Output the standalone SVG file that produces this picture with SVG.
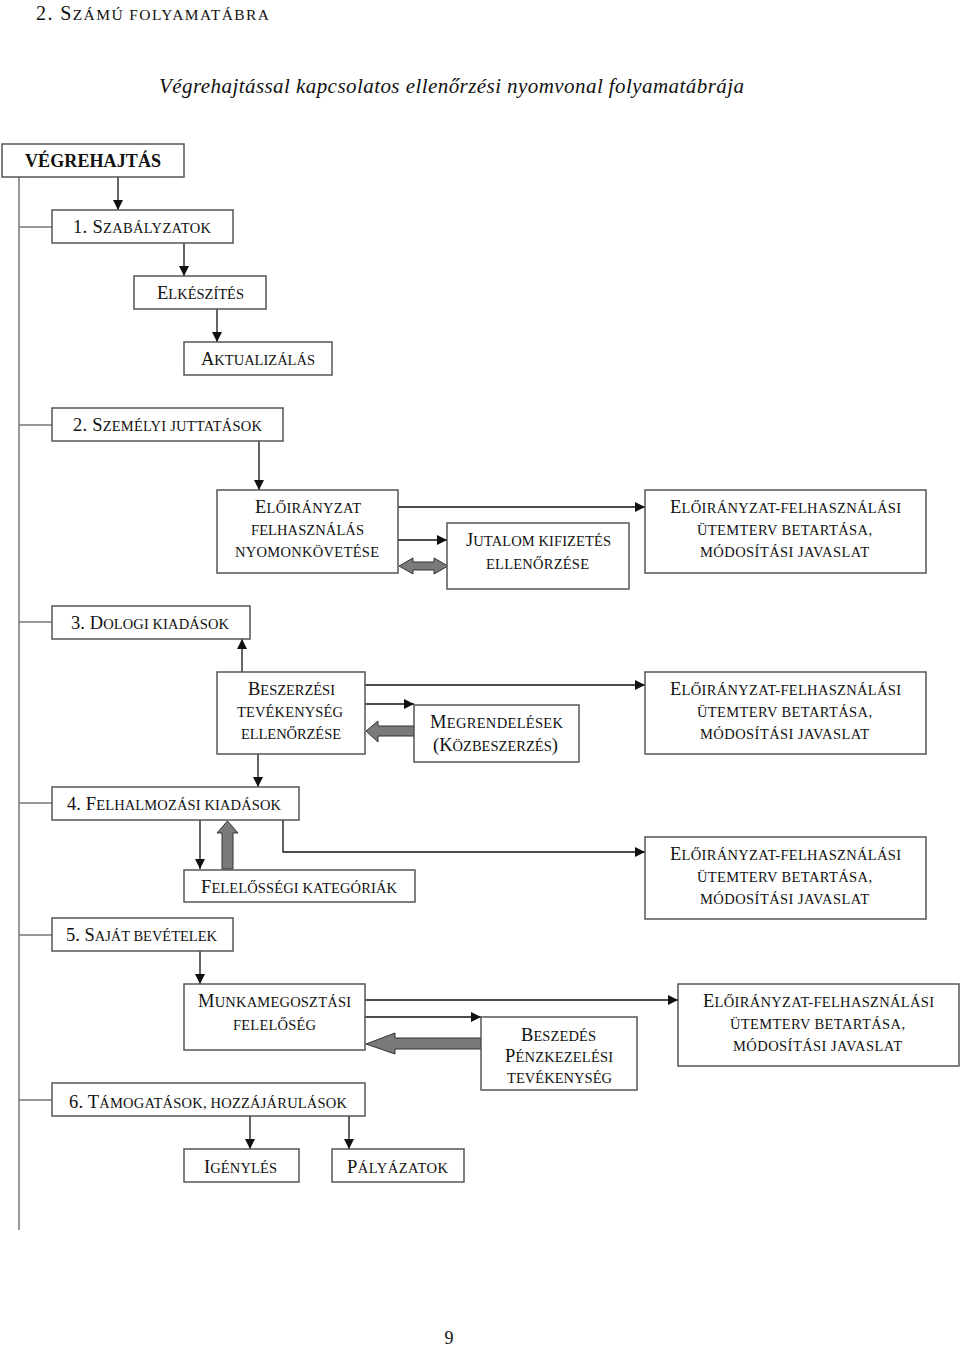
<svg xmlns="http://www.w3.org/2000/svg" width="960" height="1347" viewBox="0 0 960 1347">
<style>
text{font-family:"Liberation Serif","Times New Roman",serif;fill:#111;}
.b{font-size:18.5px}
.s{font-size:14.5px}
.box{fill:#fff;stroke:#555;stroke-width:1.5}
.spine{fill:none;stroke:#777;stroke-width:1.5}
.ln{fill:none;stroke:#111;stroke-width:1.3}
.blk{fill:#7a7a7a;stroke:#333;stroke-width:1}
</style>
<defs>
<marker id="ah" viewBox="0 0 10 10" refX="10" refY="5" markerWidth="10" markerHeight="10" markerUnits="userSpaceOnUse" orient="auto">
<path d="M0,0 L10,5 L0,10 z" fill="#111"/>
</marker>
</defs>
<rect width="960" height="1347" fill="#fff"/>

<g id="title">
<text x="36" y="20" textLength="233" lengthAdjust="spacing"><tspan style="font-size:20px">2. S</tspan><tspan style="font-size:15.5px">ZÁMÚ FOLYAMATÁBRA</tspan></text>
<text x="159" y="93" textLength="585" lengthAdjust="spacing" style="font-size:21px;font-style:italic">Végrehajtással kapcsolatos ellenőrzési nyomvonal folyamatábrája</text>
</g>

<g id="connectors">
<path class="spine" d="M19,177 V1230 M19,227 H52 M19,425 H52 M19,622 H52 M19,803 H52 M19,935 H52 M19,1100 H52"/>
<path class="ln" d="M118,177 V210" marker-end="url(#ah)"/>
<path class="ln" d="M184,243 V276" marker-end="url(#ah)"/>
<path class="ln" d="M217,309 V342" marker-end="url(#ah)"/>
<path class="ln" d="M259,441 V490" marker-end="url(#ah)"/>
<path class="ln" d="M398,507 H645" marker-end="url(#ah)"/>
<path class="ln" d="M398,540 H447" marker-end="url(#ah)"/>
<polygon class="blk" points="399,566 413,558 413,562 434,562 434,558 448,566 434,574 434,570 413,570 413,574"/>
<path class="ln" d="M242,672 V639" marker-end="url(#ah)"/>
<path class="ln" d="M365,685 H645" marker-end="url(#ah)"/>
<path class="ln" d="M365,704 H414" marker-end="url(#ah)"/>
<polygon class="blk" points="366,731 378,721 378,726 414,726 414,736 378,736 378,742"/>
<path class="ln" d="M258,754 V787" marker-end="url(#ah)"/>
<path class="ln" d="M200,820 V869" marker-end="url(#ah)"/>
<polygon class="blk" points="227.5,821 238,833 233,833 233,869 222,869 222,833 217,833"/>
<path class="ln" d="M283,820 V852 H645" marker-end="url(#ah)"/>
<path class="ln" d="M200,951 V984" marker-end="url(#ah)"/>
<path class="ln" d="M365,1000 H678" marker-end="url(#ah)"/>
<path class="ln" d="M365,1017 H481" marker-end="url(#ah)"/>
<polygon class="blk" points="366,1044 395,1033 395,1038 481,1038 481,1049 395,1049 395,1054"/>
<path class="ln" d="M250,1116 V1149" marker-end="url(#ah)"/>
<path class="ln" d="M349,1116 V1149" marker-end="url(#ah)"/>
</g>

<g id="n-vegrehajtas">
<rect class="box" x="2" y="144" width="182" height="33"/>
<text x="25" y="167" textLength="136" lengthAdjust="spacing" style="font-size:18px;font-weight:bold">VÉGREHAJTÁS</text>
</g>

<g id="n-szabalyzatok">
<rect class="box" x="52" y="210" width="181" height="33"/>
<text x="73" y="233" textLength="138" lengthAdjust="spacing"><tspan class="b">1. S</tspan><tspan class="s">ZABÁLYZATOK</tspan></text>
</g>

<g id="n-elkeszites">
<rect class="box" x="134" y="276" width="132" height="33"/>
<text x="157" y="299" textLength="87" lengthAdjust="spacing"><tspan class="b">E</tspan><tspan class="s">LKÉSZÍTÉS</tspan></text>
</g>

<g id="n-aktualizalas">
<rect class="box" x="184" y="342" width="148" height="33"/>
<text x="201" y="365" textLength="114" lengthAdjust="spacing"><tspan class="b">A</tspan><tspan class="s">KTUALIZÁLÁS</tspan></text>
</g>

<g id="n-szemelyi">
<rect class="box" x="52" y="408" width="231" height="33"/>
<text x="73" y="431" textLength="189" lengthAdjust="spacing"><tspan class="b">2. S</tspan><tspan class="s">ZEMÉLYI JUTTATÁSOK</tspan></text>
</g>

<g id="n-eloiranyzat-kovetes">
<rect class="box" x="217" y="490" width="181" height="83"/>
<text x="255" y="513" textLength="106" lengthAdjust="spacing"><tspan class="b">E</tspan><tspan class="s">LŐIRÁNYZAT</tspan></text>
<text x="251" y="535" textLength="113" lengthAdjust="spacing" class="s">FELHASZNÁLÁS</text>
<text x="235" y="557" textLength="144" lengthAdjust="spacing" class="s">NYOMONKÖVETÉSE</text>
</g>

<g id="n-jutalom">
<rect class="box" x="447" y="523" width="182" height="66"/>
<text x="466" y="546" textLength="145" lengthAdjust="spacing"><tspan class="b">J</tspan><tspan class="s">UTALOM KIFIZETÉS</tspan></text>
<text x="486" y="569" textLength="103" lengthAdjust="spacing" class="s">ELLENŐRZÉSE</text>
</g>

<g id="n-utemterv-1">
<rect class="box" x="645" y="490" width="281" height="83"/>
<text x="670" y="513" textLength="231" lengthAdjust="spacing"><tspan class="b">E</tspan><tspan class="s">LŐIRÁNYZAT-FELHASZNÁLÁSI</tspan></text>
<text x="697" y="535" textLength="175" lengthAdjust="spacing" class="s">ÜTEMTERV BETARTÁSA,</text>
<text x="700" y="557" textLength="169" lengthAdjust="spacing" class="s">MÓDOSÍTÁSI JAVASLAT</text>
</g>

<g id="n-dologi">
<rect class="box" x="52" y="606" width="198" height="33"/>
<text x="71" y="629" textLength="158" lengthAdjust="spacing"><tspan class="b">3. D</tspan><tspan class="s">OLOGI KIADÁSOK</tspan></text>
</g>

<g id="n-beszerzesi">
<rect class="box" x="217" y="672" width="148" height="82"/>
<text x="248" y="695" textLength="87" lengthAdjust="spacing"><tspan class="b">B</tspan><tspan class="s">ESZERZÉSI</tspan></text>
<text x="237" y="717" textLength="106" lengthAdjust="spacing" class="s">TEVÉKENYSÉG</text>
<text x="241" y="739" textLength="100" lengthAdjust="spacing" class="s">ELLENŐRZÉSE</text>
</g>

<g id="n-megrendelesek">
<rect class="box" x="414" y="705" width="165" height="57"/>
<text x="430" y="728" textLength="133" lengthAdjust="spacing"><tspan class="b">M</tspan><tspan class="s">EGRENDELÉSEK</tspan></text>
<text x="433" y="751" textLength="125" lengthAdjust="spacing"><tspan class="b">(K</tspan><tspan class="s">ÖZBESZERZÉS</tspan><tspan class="b">)</tspan></text>
</g>

<g id="n-utemterv-2">
<rect class="box" x="645" y="672" width="281" height="82"/>
<text x="670" y="695" textLength="231" lengthAdjust="spacing"><tspan class="b">E</tspan><tspan class="s">LŐIRÁNYZAT-FELHASZNÁLÁSI</tspan></text>
<text x="697" y="717" textLength="175" lengthAdjust="spacing" class="s">ÜTEMTERV BETARTÁSA,</text>
<text x="700" y="739" textLength="169" lengthAdjust="spacing" class="s">MÓDOSÍTÁSI JAVASLAT</text>
</g>

<g id="n-felhalmozasi">
<rect class="box" x="52" y="787" width="247" height="33"/>
<text x="67" y="810" textLength="214" lengthAdjust="spacing"><tspan class="b">4. F</tspan><tspan class="s">ELHALMOZÁSI KIADÁSOK</tspan></text>
</g>

<g id="n-felelossegi">
<rect class="box" x="184" y="870" width="231" height="32"/>
<text x="201" y="893" textLength="196" lengthAdjust="spacing"><tspan class="b">F</tspan><tspan class="s">ELELŐSSÉGI KATEGÓRIÁK</tspan></text>
</g>

<g id="n-utemterv-3">
<rect class="box" x="645" y="837" width="281" height="82"/>
<text x="670" y="860" textLength="231" lengthAdjust="spacing"><tspan class="b">E</tspan><tspan class="s">LŐIRÁNYZAT-FELHASZNÁLÁSI</tspan></text>
<text x="697" y="882" textLength="175" lengthAdjust="spacing" class="s">ÜTEMTERV BETARTÁSA,</text>
<text x="700" y="904" textLength="169" lengthAdjust="spacing" class="s">MÓDOSÍTÁSI JAVASLAT</text>
</g>

<g id="n-sajat">
<rect class="box" x="52" y="918" width="181" height="33"/>
<text x="66" y="941" textLength="151" lengthAdjust="spacing"><tspan class="b">5. S</tspan><tspan class="s">AJÁT BEVÉTELEK</tspan></text>
</g>

<g id="n-munkamegosztasi">
<rect class="box" x="184" y="984" width="181" height="66"/>
<text x="198" y="1007" textLength="153" lengthAdjust="spacing"><tspan class="b">M</tspan><tspan class="s">UNKAMEGOSZTÁSI</tspan></text>
<text x="233" y="1030" textLength="83" lengthAdjust="spacing" class="s">FELELŐSÉG</text>
</g>

<g id="n-beszedes">
<rect class="box" x="481" y="1017" width="156" height="73"/>
<text x="521" y="1041" textLength="75" lengthAdjust="spacing"><tspan class="b">B</tspan><tspan class="s">ESZEDÉS</tspan></text>
<text x="505" y="1062" textLength="108" lengthAdjust="spacing"><tspan class="b">P</tspan><tspan class="s">ÉNZKEZELÉSI</tspan></text>
<text x="507" y="1083" textLength="105" lengthAdjust="spacing" class="s">TEVÉKENYSÉG</text>
</g>

<g id="n-utemterv-4">
<rect class="box" x="678" y="984" width="281" height="82"/>
<text x="703" y="1007" textLength="231" lengthAdjust="spacing"><tspan class="b">E</tspan><tspan class="s">LŐIRÁNYZAT-FELHASZNÁLÁSI</tspan></text>
<text x="730" y="1029" textLength="175" lengthAdjust="spacing" class="s">ÜTEMTERV BETARTÁSA,</text>
<text x="733" y="1051" textLength="169" lengthAdjust="spacing" class="s">MÓDOSÍTÁSI JAVASLAT</text>
</g>

<g id="n-tamogatasok">
<rect class="box" x="52" y="1083" width="313" height="33"/>
<text x="69" y="1108" textLength="278" lengthAdjust="spacing"><tspan class="b">6. T</tspan><tspan class="s">ÁMOGATÁSOK, HOZZÁJÁRULÁSOK</tspan></text>
</g>

<g id="n-igenyles">
<rect class="box" x="184" y="1149" width="115" height="33"/>
<text x="204" y="1173" textLength="73" lengthAdjust="spacing"><tspan class="b">I</tspan><tspan class="s">GÉNYLÉS</tspan></text>
</g>

<g id="n-palyazatok">
<rect class="box" x="332" y="1149" width="132" height="33"/>
<text x="347" y="1173" textLength="101" lengthAdjust="spacing"><tspan class="b">P</tspan><tspan class="s">ÁLYÁZATOK</tspan></text>
</g>

<g id="page-number">
<text x="449" y="1344" text-anchor="middle" style="font-size:18px">9</text>
</g>
</svg>
